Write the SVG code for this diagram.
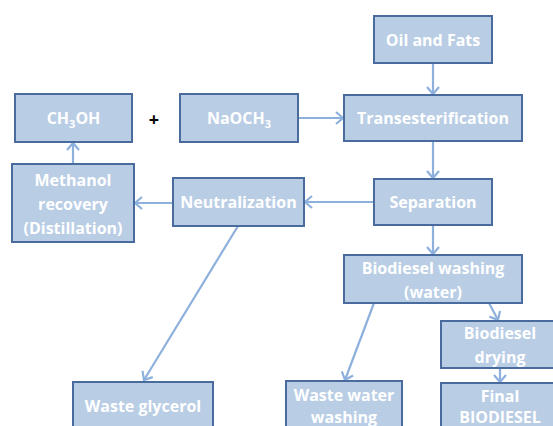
<svg xmlns="http://www.w3.org/2000/svg" width="553" height="426" viewBox="0 0 553 426">
<style>
.box{fill:#B9CDE5;stroke:#4A6B9D;stroke-width:2}
.t{font-family:"Open Sans","Liberation Sans",sans-serif;font-weight:bold;font-size:16px;fill:#FFFFFF;text-anchor:middle}
.sub{font-size:11px}
.c{stroke:#8DB0DD;stroke-width:2.2;fill:none;marker-end:url(#ah)}
</style>
<defs>
<marker id="ah" markerUnits="userSpaceOnUse" markerWidth="14" markerHeight="16" refX="10" refY="7" orient="auto" viewBox="0 0 14 14">
<path d="M3,1 L10,7 L3,13" fill="none" stroke="#8DB0DD" stroke-width="2.2"/>
</marker>
</defs>
<rect width="553" height="426" fill="#FFFFFF"/>
<g id="connectors">
<line class="c" x1="433" y1="63" x2="433" y2="94"/>
<line class="c" x1="298" y1="118" x2="343" y2="118"/>
<line class="c" x1="433" y1="141" x2="433" y2="178"/>
<line class="c" x1="374" y1="202" x2="305" y2="202"/>
<line class="c" x1="173" y1="203" x2="135" y2="203"/>
<line class="c" x1="73" y1="164" x2="73" y2="143"/>
<line class="c" x1="433" y1="225" x2="433" y2="254"/>
<line class="c" x1="238" y1="226" x2="144" y2="380"/>
<line class="c" x1="374" y1="303" x2="345" y2="380"/>
<line class="c" x1="489" y1="303" x2="498" y2="320"/>
<line class="c" x1="500" y1="368" x2="500" y2="382"/>
</g>
<g id="oil"><rect class="box" x="374" y="16" width="118" height="47"/><text class="t" x="433" y="46">Oil and Fats</text></g>
<g id="trans"><rect class="box" x="344" y="95" width="178" height="46"/><text class="t" x="433" y="124">Transesterification</text></g>
<g id="ch3oh"><rect class="box" x="15" y="94" width="117" height="48"/><text class="t" x="73.5" y="124">CH<tspan class="sub" dy="4">3</tspan><tspan dy="-4">OH</tspan></text></g>
<text x="154" y="126" font-family="'Open Sans','Liberation Sans',sans-serif" font-weight="bold" font-size="18" fill="#000000" text-anchor="middle">+</text>
<g id="naoch3"><rect class="box" x="180" y="94" width="118" height="48"/><text class="t" x="239" y="124">NaOCH<tspan class="sub" dy="4">3</tspan></text></g>
<g id="methanol"><rect class="box" x="12" y="164" width="122" height="78"/><text class="t" x="73" y="186">Methanol</text><text class="t" x="73" y="210">recovery</text><text class="t" x="73" y="234">(Distillation)</text></g>
<g id="neut"><rect class="box" x="173" y="178" width="131" height="48"/><text class="t" x="238.5" y="208">Neutralization</text></g>
<g id="sep"><rect class="box" x="374" y="179" width="118" height="46"/><text class="t" x="433" y="208">Separation</text></g>
<g id="wash"><rect class="box" x="344" y="255" width="178" height="48"/><text class="t" x="433" y="274">Biodiesel washing</text><text class="t" x="433" y="298">(water)</text></g>
<g id="drying"><rect class="box" x="441" y="321" width="118" height="47"/><text class="t" x="500" y="339">Biodiesel</text><text class="t" x="500" y="363">drying</text></g>
<g id="final"><rect class="box" x="441" y="383" width="118" height="60"/><text class="t" x="500" y="402">Final</text><text class="t" x="500" y="423">BIODIESEL</text></g>
<g id="glycerol"><rect class="box" x="73" y="382" width="140" height="60"/><text class="t" x="143" y="412">Waste glycerol</text></g>
<g id="wastewater"><rect class="box" x="286" y="381" width="116" height="60"/><text class="t" x="344" y="401">Waste water</text><text class="t" x="344" y="423">washing</text></g>
</svg>
